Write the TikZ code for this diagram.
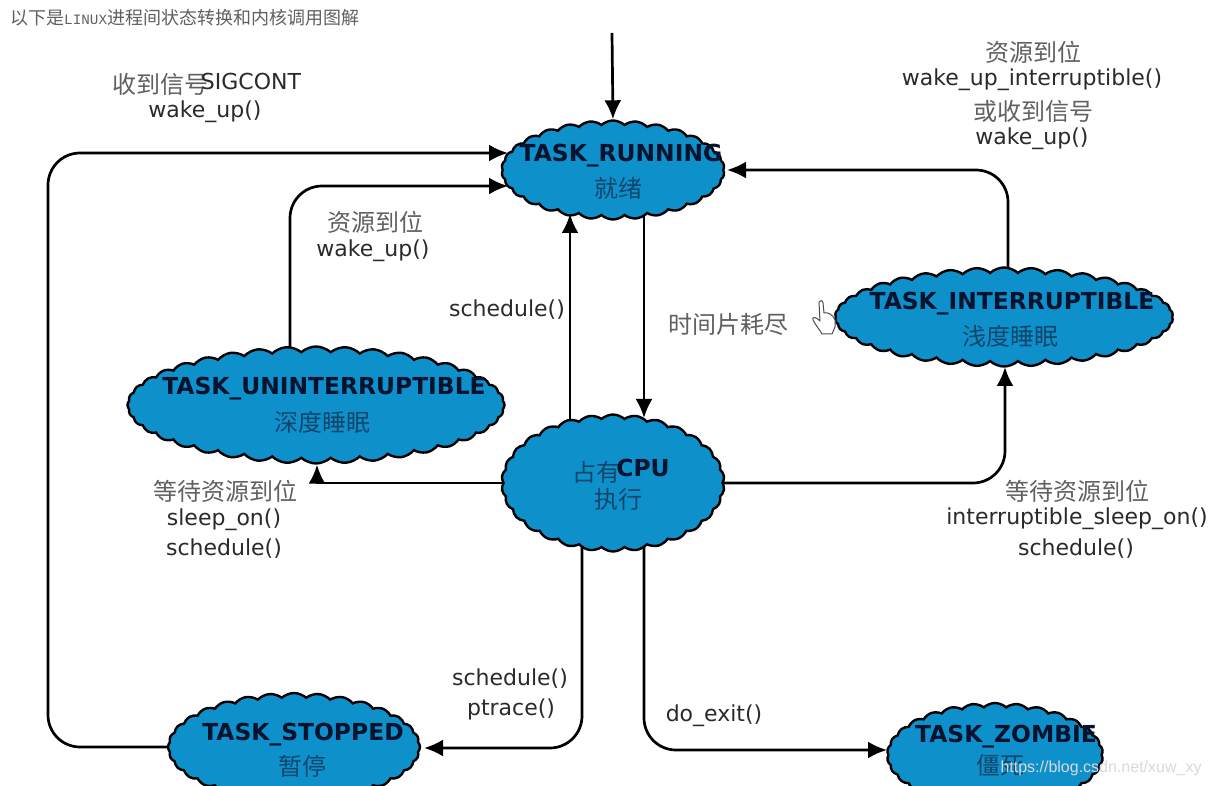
\documentclass[tikz,border=0pt]{standalone}
\usepackage{fontspec}
\setmainfont{DejaVu Sans}
\newfontfamily\cjk{Noto Sans CJK SC}
\newfontfamily\monof{Liberation Mono}
\usetikzlibrary{shapes.symbols,arrows.meta,backgrounds}
\definecolor{blob}{HTML}{0E90CB}
\definecolor{titleink}{HTML}{06122E}
\definecolor{cjkink}{HTML}{10466C}
\definecolor{labink}{HTML}{2A2A2A}
\definecolor{cjkgray}{HTML}{606060}
\tikzset{
  blobshape/.style={cloud,cloud puffs=#1,cloud puff arc=85,cloud ignores aspect,draw=black,line width=2.4pt,fill=blob,inner sep=0pt},
  tt/.style={inner sep=0pt,text=titleink,font=\fontsize{23.4}{25}\selectfont\bfseries},
  nc/.style={inner sep=0pt,text=cjkink,font=\fontsize{24}{26}\selectfont\cjk},
  lab/.style={inner sep=0pt,text=labink,font=\fontsize{22}{24}\selectfont},
  cn/.style={inner sep=0pt,text=cjkgray,font=\fontsize{24}{26}\selectfont\cjk},
  conn/.style={line width=2.7pt,draw=black,rounded corners=32pt,-{Latex[length=19pt,width=17pt]}},
}
\begin{document}
\begin{tikzpicture}[x=1pt,y=-1pt]
\useasboundingbox (0,0) rectangle (1211,786);
\clip (0,0) rectangle (1211,786);
% clouds
\node[blobshape=30,minimum width=223pt,minimum height=99pt] (run) at (613,170) {};
\node[blobshape=38,minimum width=338pt,minimum height=99pt] (int) at (1004,317) {};
\node[blobshape=40,minimum width=377pt,minimum height=117pt] (unint) at (316,405) {};
\node[blobshape=30,minimum width=223pt,minimum height=137pt] (cpu) at (613,483) {};
\node[blobshape=32,minimum width=252pt,minimum height=108pt] (stop) at (294,747) {};
\node[blobshape=30,minimum width=216pt,minimum height=104pt] (zomb) at (995,755) {};
% cloud texts
\node[tt] (runT) at (621,156) {TASK\_RUNNING};
\node[nc] (runC) at (618,188) {就绪};
\node[tt] (intT) at (1012,304) {TASK\_INTERRUPTIBLE};
\node[nc] (intC) at (1010,336) {浅度睡眠};
\node[tt] (unintT) at (324,389) {TASK\_UNINTERRUPTIBLE};
\node[nc] (unintC) at (322,422) {深度睡眠};
\node[nc] (cpuA) at (596,472) {占有};
\node[tt] (cpuB) at (643,468) {CPU};
\node[nc] (cpuC) at (618,499) {执行};
\node[tt] (stopT) at (303,735) {TASK\_STOPPED};
\node[nc] (stopC) at (302,766) {暂停};
\node[tt] (zombT) at (1006,737) {TASK\_ZOMBIE};
\node[nc] (zombC) at (1000,765) {僵死};
% entry
\coordinate (entry) at (612,33);
% connectors
\begin{scope}[on background layer]
\fill[white] (0,0) rectangle (1211,786);
\draw[conn] (entry) -- (run.north);
\draw[conn] (stop.center) -- (48,747) -- (48,153) -- ([xshift=-105pt,yshift=17pt]run.center);
\draw[conn] ([xshift=-26pt]unint.center) -- (290,186) -- ([xshift=-105pt,yshift=-16pt]run.center);
\draw[conn] ([xshift=395pt]run.center |- int.center) -- (1008,170) -- ([xshift=114pt]run.center);
\draw[conn] ([xshift=-43pt]cpu.center) -- ([xshift=-43pt,yshift=-44pt]run.center);
\draw[conn] ([xshift=31pt]run.center) -- ([xshift=31pt,yshift=65pt]cpu.center);
\draw[conn,rounded corners=0pt] (cpu.center) -- (317,483) -- ([xshift=1pt]unint.south);
\draw[conn] (cpu.center) -- (1005,483) -- ([xshift=1pt,yshift=-50pt]int.center);
\draw[conn] ([xshift=-31pt]cpu.center) -- (582,748) -- ([xshift=130pt,yshift=-1pt]stop.center);
\draw[conn] ([xshift=31pt]cpu.center) -- (644,750) -- ([xshift=-108pt,yshift=5pt]zomb.center);
\end{scope}
% labels
\node[inner sep=0pt,anchor=west,text=cjkgray,font=\fontsize{18}{20}\selectfont\cjk] (head) at (10,18) {以下是{\monof\fontsize{14.3}{16}\selectfont LINUX}进程间状态转换和内核调用图解};
\node[cn] (l1) at (160,84) {收到信号};
\node[lab] (l2) at (251,81) {SIGCONT};
\node[lab] (l3) at (205,112) {wake\_up()};
\node[cn] (r1) at (1033,52) {资源到位};
\node[lab] (r2) at (1032,80) {wake\_up\_interruptible()};
\node[cn] (r3) at (1033,111) {或收到信号};
\node[lab] (r4) at (1032,139) {wake\_up()};
\node[cn] (m1) at (375,222) {资源到位};
\node[lab] (m2) at (373,251) {wake\_up()};
\node[lab] (s1) at (507,310) {schedule()};
\node[cn] (t1) at (728,324) {时间片耗尽};
\node[cn] (w1) at (225,491) {等待资源到位};
\node[lab] (w2) at (224,520) {sleep\_on()};
\node[lab] (w3) at (224,549) {schedule()};
\node[cn] (x1) at (1077,491) {等待资源到位};
\node[lab] (x2) at (1077,519) {interruptible\_sleep\_on()};
\node[lab] (x3) at (1076,549) {schedule()};
\node[lab] (y1) at (510,679) {schedule()};
\node[lab] (y2) at (511,709) {ptrace()};
\node[lab] (y3) at (714,716) {do\_exit()};
\node[inner sep=0pt,text=black!15,font=\fontsize{16}{18}\selectfont\fontspec{Liberation Sans}] (mark) at (1101,768) {https://blog.csdn.net/xuw\_xy};
% hand cursor
\draw[fill=white,draw=black!70,line width=1pt,line join=round]
 (819,302) .. controls (820,300) and (823,300) .. (823,303) -- (824,313)
 .. controls (827,312) and (833,314) .. (835,320) -- (835,327) -- (832,334) -- (822,334)
 .. controls (820,330) and (816,326) .. (813,320)
 .. controls (812,317) and (815,316) .. (820,321) -- (819,302) -- cycle;
\end{tikzpicture}
\end{document}
